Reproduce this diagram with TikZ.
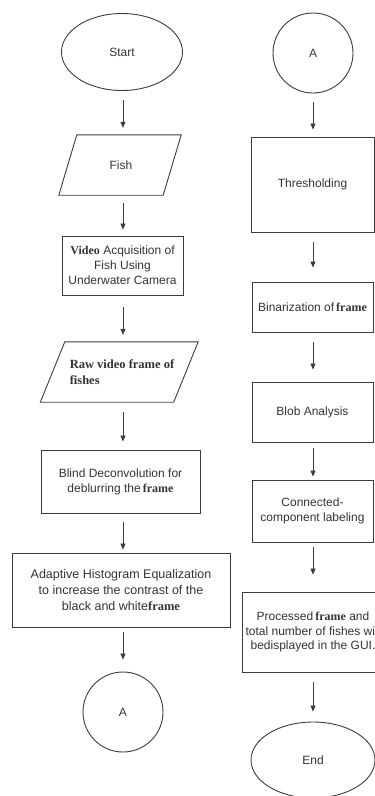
\documentclass[tikz,border=0pt]{standalone}
\usepackage{fontspec}
\setmainfont{Liberation Sans}
\newfontfamily\tnr{Liberation Serif}
\usetikzlibrary{shapes.geometric,arrows.meta}
\definecolor{ln}{HTML}{3C3C3C}
\definecolor{tx}{HTML}{333333}
\newcommand{\frm}{{\tnr\bfseries frame}}
\begin{document}
\begin{tikzpicture}[x=1pt,y=-1pt,
 every node/.style={text=tx, font=\fontsize{12}{15}\selectfont, inner sep=2pt},
 box/.style={draw=ln, line width=0.9pt, rectangle, align=center},
 term/.style={draw=ln, line width=0.9pt, ellipse, inner sep=0pt},
 conn/.style={draw=ln, line width=0.9pt, circle, inner sep=0pt, minimum size=80pt},
 arr/.style={draw=ln, line width=0.8pt, -{Triangle[length=6pt,width=5pt]}},
 para/.style={draw=ln, line width=0.9pt}]
\useasboundingbox (0,0) rectangle (375,796);
\clip (0,0) rectangle (375,796);
% left column
\node[term, minimum width=121pt, minimum height=77pt] (start) at (122,52) {Start};
\node[minimum width=104pt, minimum height=60pt] (fish) at (121,165) {Fish};
\draw[para] ([xshift=8pt]fish.north west) -- ([xshift=8pt]fish.north east) -- ([xshift=-10pt]fish.south east) -- ([xshift=-10pt]fish.south west) -- cycle;
\node[box, minimum width=121pt, minimum height=59pt] (video) at (122.5,265.5) {{\tnr\bfseries Video} Acquisition of\\Fish Using\\Underwater Camera};
\node[minimum width=133pt, minimum height=60pt, align=left, font=\tnr\bfseries\fontsize{12.5}{16}\selectfont] (raw) at (122,372) {Raw video frame of\\fishes};
\draw[para] ([xshift=9.5pt]raw.north west) -- ([xshift=9.5pt]raw.north east) -- ([xshift=-15pt]raw.south east) -- ([xshift=-15pt]raw.south west) -- cycle;
\node[box, minimum width=159pt, minimum height=63pt] (blind) at (120.5,481.5) {Blind Deconvolution for\\deblurring the\,\frm};
\node[box, minimum width=218pt, minimum height=74pt, font=\fontsize{12.5}{16}\selectfont] (adapt) at (121,590) {Adaptive Histogram Equalization\\to increase the contrast of the\\black and white\frm};
\node[conn] (aL) at (123,712) {A};
% right column
\node[conn] (aR) at (313,53) {A};
\node[box, minimum width=123pt, minimum height=95pt] (thr) at (312.5,184.5) {Thresholding};
\node[box, minimum width=121pt, minimum height=50pt] (bin) at (312.5,307) {Binarization of\,\frm};
\node[box, minimum width=121pt, minimum height=60pt] (blob) at (312.5,412) {Blob Analysis};
\node[box, minimum width=121pt, minimum height=62pt] (ccl) at (312.5,511) {Connected-\\component labeling};
\node[box, minimum width=142pt, minimum height=80pt, font=\fontsize{12}{14.5}\selectfont] (proc) at (313,632) {Processed\,\frm{} and\\total number of fishes will\\bedisplayed in the GUI.};
\node[term, minimum width=124pt, minimum height=76pt] (end) at (313,760) {End};
% arrows
\draw[arr, shorten <=9.5pt, shorten >=7pt] (123,0 |- start.south) -- (123,0 |- fish.north);
\draw[arr, shorten <=8pt, shorten >=6pt] (123,0 |- fish.south) -- (123,0 |- video.north);
\draw[arr, shorten <=12pt, shorten >=7pt] (123,0 |- video.south) -- (123,0 |- raw.north);
\draw[arr, shorten <=10pt, shorten >=8pt] (123,0 |- raw.south) -- (123,0 |- blind.north);
\draw[arr, shorten <=9pt, shorten >=3pt] (123,0 |- blind.south) -- (123,0 |- adapt.north);
\draw[arr, shorten <=5pt, shorten >=12pt] (123,0 |- adapt.south) -- (aL.north);
\draw[arr, shorten <=9pt, shorten >=7pt] (aR.south) -- (313,0 |- thr.north);
\draw[arr, shorten <=10pt, shorten >=14pt] (313,0 |- thr.south) -- (313,0 |- bin.north);
\draw[arr, shorten <=10pt, shorten >=12pt] (313,0 |- bin.south) -- (313,0 |- blob.north);
\draw[arr, shorten <=6pt, shorten >=3pt] (313,0 |- blob.south) -- (313,0 |- ccl.north);
\draw[arr, shorten <=5pt, shorten >=17pt] (313,0 |- ccl.south) -- (313,0 |- proc.north);
\draw[arr, shorten <=10pt, shorten >=10pt] (proc.south) -- (end.north);
\end{tikzpicture}
\end{document}
